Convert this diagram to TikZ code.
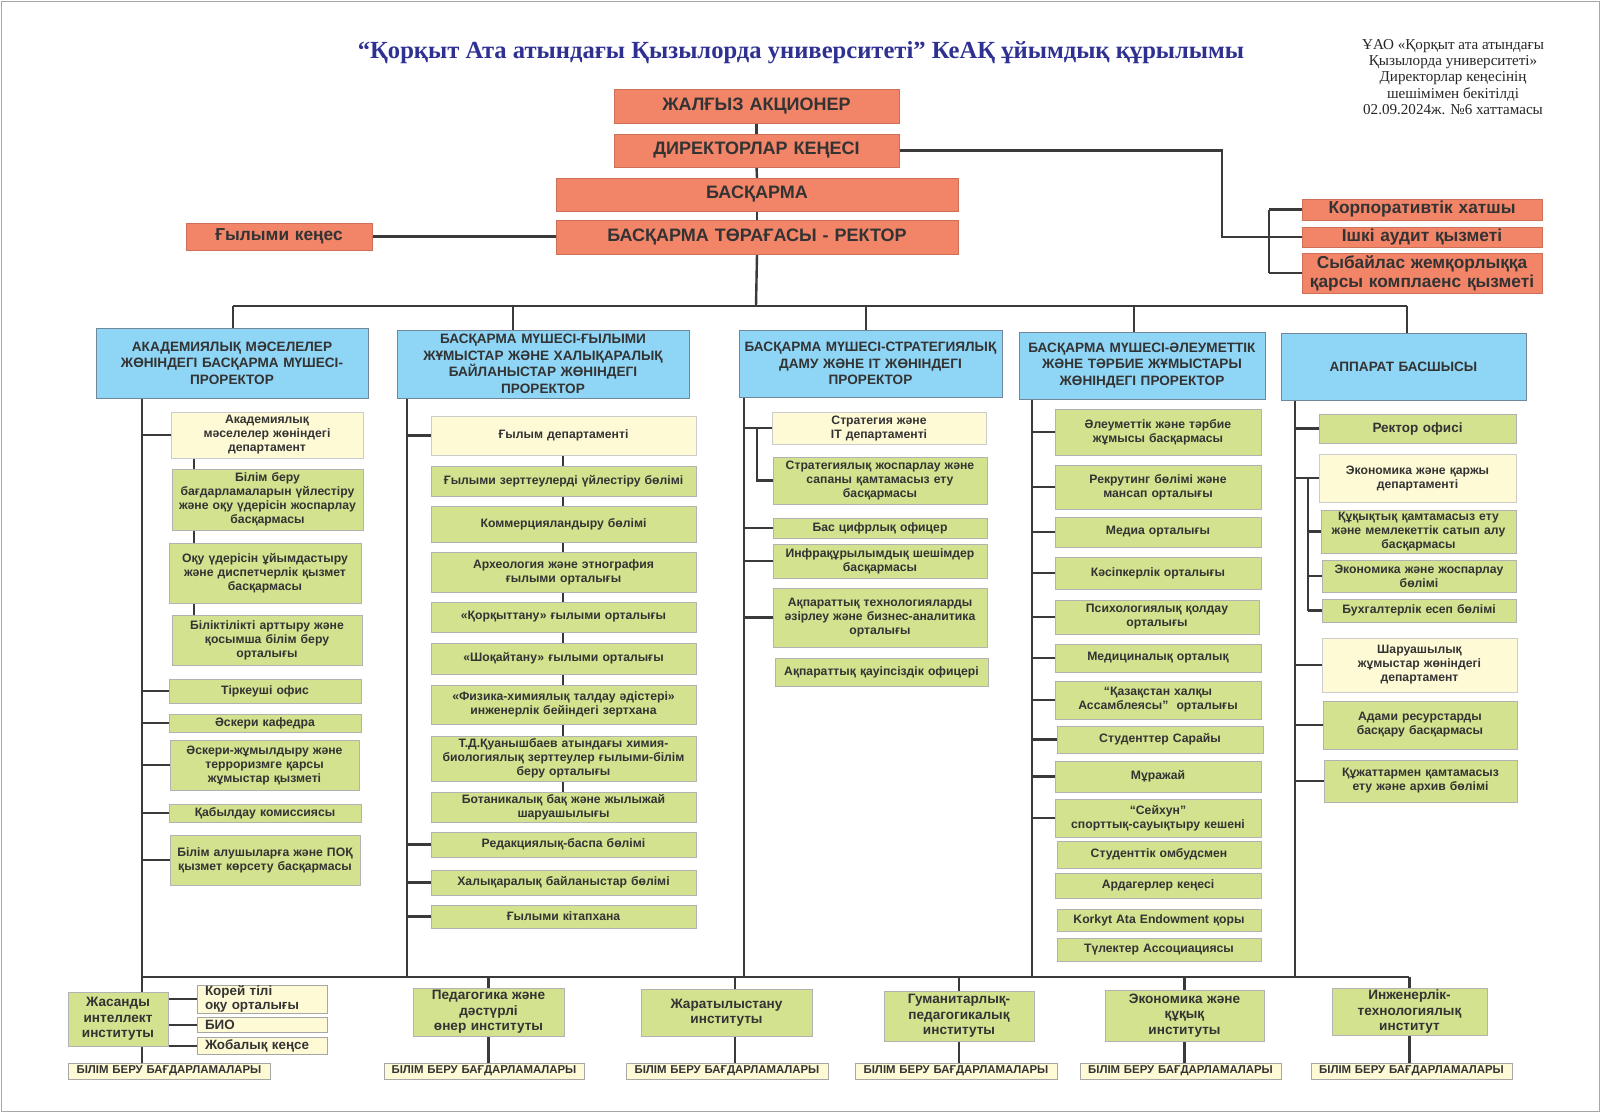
\documentclass[tikz,border=0pt]{standalone}
\usepackage{fontspec}
\setmainfont{Liberation Sans}
\newfontfamily\serifx{Liberation Serif}
\definecolor{orng}{HTML}{F28468}
\definecolor{blu}{HTML}{8FD6F6}
\definecolor{grn}{HTML}{D3E28F}
\definecolor{crm}{HTML}{FFFAD6}
\definecolor{txt}{HTML}{333333}
\definecolor{ttl}{HTML}{2E3192}
\definecolor{lnc}{HTML}{3A3A3A}
\definecolor{bbd}{HTML}{6F8799}
\pgfdeclarelayer{bg}
\pgfdeclarelayer{lines}
\pgfsetlayers{bg,lines,main}
\newcommand\mybox[7]{%
  \pgfmathsetmacro\bxw{#5-#3}%
  \pgfmathsetmacro\bxh{#6-#4}%
  \pgfmathsetmacro\bxt{#5-#3-4}%
  \pgfmathsetmacro\bxcx{(#3+#5)/2}%
  \pgfmathsetmacro\bxcy{(#4+#6)/2}%
  \node[#2, minimum width=\bxw pt, minimum height=\bxh pt, text width=\bxt pt] (#1) at (\bxcx,\bxcy) {#7};}
\tikzset{
  basebox/.style={inner xsep=2pt, inner ysep=0pt, align=center, text=txt, font=\bfseries\fontsize{12.2}{14}\selectfont},
  ob/.style={basebox, fill=orng, draw=orng!85!black, line width=0.4pt, font=\bfseries\fontsize{18}{20}\selectfont},
  obs/.style={ob, font=\bfseries\fontsize{17.3}{19}\selectfont},
  bb/.style={basebox, fill=blu, draw=bbd, line width=0.7pt, font=\bfseries\fontsize{13.6}{16.5}\selectfont},
  gb/.style={basebox, fill=grn, draw=gray!60, line width=0.6pt},
  cb/.style={basebox, fill=crm, draw=gray!40, line width=0.6pt},
  ib/.style={gb, font=\bfseries\fontsize{13.6}{15.3}\selectfont},
  kb/.style={cb, draw=gray!70, align=left, font=\bfseries\fontsize{13.4}{14}\selectfont},
  pb/.style={cb, draw=gray!70, font=\bfseries\fontsize{11.4}{12}\selectfont},
  conn/.style={draw=lnc, line width=2.4pt},
}
\begin{document}
\begin{tikzpicture}[x=1pt,y=-1pt]
\useasboundingbox (0,0) rectangle (1600,1112);
\begin{pgfonlayer}{bg}
\fill[white] (0,0) rectangle (1600,1112);
\draw[gray!70, line width=0.8pt] (1,1) rectangle (1599,1111);
\end{pgfonlayer}

% title and note
\node[font=\serifx\bfseries\fontsize{24.6}{28}\selectfont, text=ttl] (title) at (801,53) {“Қорқыт Ата атындағы Қызылорда университеті” КеАҚ ұйымдық құрылымы};
\node[font=\serifx\fontsize{15.1}{16.3}\selectfont, align=center, text=black!85] (note) at (1453,77) {ҰАО «Қорқыт ата атындағы\\Қызылорда университеті»\\Директорлар кеңесінің\\шешімімен бекітілді\\02.09.2024ж. №6 хаттамасы};

% coordinates
\coordinate (busL) at (233,306);
\coordinate (busR) at (1407,306);
\coordinate (bus) at (756,306);
\coordinate (v2) at (513,306);
\coordinate (v3) at (866,306);
\coordinate (v4) at (1134,306);
\coordinate (j1) at (1222,150);
\coordinate (j2) at (1269,200);
\coordinate (s1) at (142,398);
\coordinate (s2) at (407,398);
\coordinate (s3) at (744,397);
\coordinate (s4) at (1032,399);
\coordinate (s5) at (1295,400);
\coordinate (t1) at (194,0);
\coordinate (t2) at (563,0);
\coordinate (t3) at (757,0);
\coordinate (t5) at (1308,0);
\coordinate (bbL) at (142,977);
\coordinate (bbR) at (1409,977);
\coordinate (m3) at (735,0);

% top orange boxes
\mybox{ja}{ob}{614}{89}{899}{123}{ЖАЛҒЫЗ АКЦИОНЕР}
\mybox{dk}{ob}{614}{134}{899}{167}{ДИРЕКТОРЛАР КЕҢЕСІ}
\mybox{bs}{ob}{556}{178}{958}{211}{БАСҚАРМА}
\mybox{rk}{ob}{556}{220}{958}{254}{БАСҚАРМА ТӨРАҒАСЫ - РЕКТОР}
\mybox{gk}{obs}{186}{223}{372}{250}{Ғылыми кеңес}
\mybox{kh}{obs}{1302}{199}{1542}{220}{Корпоративтік хатшы}
\mybox{ia}{obs}{1302}{227}{1542}{247}{Ішкі аудит қызметі}
\mybox{sj}{obs}{1302}{253}{1542}{293}{Сыбайлас жемқорлыққа\\қарсы комплаенс қызметі}

% column 1
\mybox{p1}{bb}{96}{328}{368}{398}{АКАДЕМИЯЛЫҚ МӘСЕЛЕЛЕР\\ЖӨНІНДЕГІ БАСҚАРМА МҮШЕСІ-\\ПРОРЕКТОР}
\mybox{a1}{cb}{171}{412}{363}{458}{Академиялық\\мәселелер жөніндегі\\департамент}
\mybox{a2}{gb}{172}{469}{363}{530}{Білім беру\\бағдарламаларын үйлестіру\\және оқу үдерісін жоспарлау\\басқармасы}
\mybox{a3}{gb}{169}{543}{361}{603}{Оқу үдерісін ұйымдастыру\\және диспетчерлік қызмет\\басқармасы}
\mybox{a4}{gb}{172}{615}{362}{665}{Біліктілікті арттыру және\\қосымша білім беру\\орталығы}
\mybox{a5}{gb}{169}{679}{361}{703}{Тіркеуші офис}
\mybox{a6}{gb}{169}{714}{361}{732}{Әскери кафедра}
\mybox{a7}{gb}{170}{740}{359}{790}{Әскери-жұмылдыру және\\терроризмге қарсы\\жұмыстар қызметі}
\mybox{a8}{gb}{169}{804}{361}{822}{Қабылдау комиссиясы}
\mybox{a9}{gb}{170}{835}{360}{885}{Білім алушыларға және ПОҚ\\қызмет көрсету басқармасы}

% column 2
\mybox{p2}{bb}{397}{330}{689}{398}{БАСҚАРМА МҮШЕСІ-ҒЫЛЫМИ\\ЖҰМЫСТАР ЖӘНЕ ХАЛЫҚАРАЛЫҚ\\БАЙЛАНЫСТАР ЖӨНІНДЕГІ\\ПРОРЕКТОР}
\mybox{b1}{cb}{431}{416}{696}{455}{Ғылым департаменті}
\mybox{b2}{gb}{431}{466}{696}{496}{Ғылыми зерттеулерді үйлестіру бөлімі}
\mybox{b3}{gb}{431}{506}{696}{542}{Коммерцияландыру бөлімі}
\mybox{b4}{gb}{431}{552}{696}{592}{Археология және этнография\\ғылыми орталығы}
\mybox{b5}{gb}{431}{602}{696}{632}{«Қорқыттану» ғылыми орталығы}
\mybox{b6}{gb}{431}{643}{696}{674}{«Шоқайтану» ғылыми орталығы}
\mybox{b7}{gb}{431}{685}{696}{724}{«Физика-химиялық талдау әдістері»\\инженерлік бейіндегі зертхана}
\mybox{b8}{gb}{431}{736}{696}{781}{Т.Д.Қуанышбаев атындағы химия-\\биологиялық зерттеулер ғылыми-білім\\беру орталығы}
\mybox{b9}{gb}{431}{792}{696}{822}{Ботаникалық бақ және жылыжай\\шаруашылығы}
\mybox{b10}{gb}{431}{832}{696}{857}{Редакциялық-баспа бөлімі}
\mybox{b11}{gb}{431}{870}{696}{895}{Халықаралық байланыстар бөлімі}
\mybox{b12}{gb}{431}{905}{696}{928}{Ғылыми кітапхана}

% column 3
\mybox{p3}{bb, inner xsep=0pt}{739}{330}{1002}{397}{БАСҚАРМА МҮШЕСІ-СТРАТЕГИЯЛЫҚ\\ДАМУ ЖӘНЕ IT ЖӨНІНДЕГІ\\ПРОРЕКТОР}
\mybox{c1}{cb}{772}{412}{986}{444}{Стратегия және\\IT департаменті}
\mybox{c2}{gb}{773}{457}{987}{504}{Стратегиялық жоспарлау және\\сапаны қамтамасыз ету\\басқармасы}
\mybox{c3}{gb}{773}{518}{987}{538}{Бас цифрлық офицер}
\mybox{c4}{gb}{773}{544}{987}{578}{Инфрақұрылымдық шешімдер\\басқармасы}
\mybox{c5}{gb}{773}{588}{987}{647}{Ақпараттық технологияларды\\әзірлеу және бизнес-аналитика\\орталығы}
\mybox{c6}{gb}{775}{658}{988}{686}{Ақпараттық қауіпсіздік офицері}

% column 4
\mybox{p4}{bb}{1019}{332}{1265}{399}{БАСҚАРМА МҮШЕСІ-ӘЛЕУМЕТТІК\\ЖӘНЕ ТӘРБИЕ ЖҰМЫСТАРЫ\\ЖӨНІНДЕГІ ПРОРЕКТОР}
\mybox{d1}{gb}{1055}{409}{1261}{455}{Әлеуметтік және тәрбие\\жұмысы басқармасы}
\mybox{d2}{gb}{1055}{465}{1261}{509}{Рекрутинг бөлімі және\\мансап орталығы}
\mybox{d3}{gb}{1055}{517}{1261}{547}{Медиа орталығы}
\mybox{d4}{gb}{1055}{557}{1261}{589}{Кәсіпкерлік орталығы}
\mybox{d5}{gb}{1055}{600}{1259}{634}{Психологиялық қолдау\\орталығы}
\mybox{d6}{gb}{1055}{644}{1261}{672}{Медициналық орталық}
\mybox{d7}{gb}{1055}{681}{1261}{719}{“Қазақстан халқы\\Ассамблеясы”\ \ орталығы}
\mybox{d8}{gb}{1057}{726}{1263}{753}{Студенттер Сарайы}
\mybox{d9}{gb}{1055}{761}{1261}{792}{Мұражай}
\mybox{d10}{gb}{1055}{799}{1261}{837}{“Сейхун”\\спорттық-сауықтыру кешені}
\mybox{d11}{gb}{1057}{841}{1261}{868}{Студенттік омбудсмен}
\mybox{d12}{gb}{1055}{873}{1261}{898}{Ардагерлер кеңесі}
\mybox{d13}{gb}{1057}{909}{1261}{931}{Korkyt Ata Endowment қоры}
\mybox{d14}{gb}{1057}{938}{1261}{961}{Түлектер Ассоциациясы}

% column 5
\mybox{p5}{bb}{1281}{333}{1526}{400}{АППАРАТ БАСШЫСЫ}
\mybox{e1}{gb, font=\bfseries\fontsize{13.5}{15}\selectfont}{1319}{414}{1516}{443}{Ректор офисі}
\mybox{e2}{cb}{1319}{454}{1516}{502}{Экономика және қаржы\\департаменті}
\mybox{e3}{gb}{1321}{510}{1516}{553}{Құқықтық қамтамасыз ету\\және мемлекеттік сатып алу\\басқармасы}
\mybox{e4}{gb}{1322}{560}{1516}{592}{Экономика және жоспарлау\\бөлімі}
\mybox{e5}{gb}{1322}{599}{1516}{622}{Бухгалтерлік есеп бөлімі}
\mybox{e6}{cb}{1322}{638}{1517}{692}{Шаруашылық\\жұмыстар жөніндегі\\департамент}
\mybox{e7}{gb}{1323}{701}{1517}{749}{Адами ресурстарды\\басқару басқармасы}
\mybox{e8}{gb}{1324}{760}{1517}{802}{Құжаттармен қамтамасыз\\ету және архив бөлімі}

% institutes
\mybox{i1}{ib}{68}{992}{168}{1046}{Жасанды\\интеллект\\институты}
\mybox{k1}{kb}{197}{985}{327}{1013}{\hspace*{6pt}Корей тілі\\\hspace*{6pt}оқу орталығы}
\mybox{k2}{kb}{197}{1017}{327}{1032}{\hspace*{6pt}БИО}
\mybox{k3}{kb}{197}{1037}{327}{1054}{\hspace*{6pt}Жобалық кеңсе}
\mybox{i2}{ib}{413}{988}{564}{1036}{Педагогика және\\дәстүрлі\\өнер институты}
\mybox{i3}{ib}{641}{989}{812}{1036}{Жаратылыстану\\институты}
\mybox{i4}{ib}{884}{991}{1034}{1041}{Гуманитарлық-\\педагогикалық\\институты}
\mybox{i5}{ib}{1105}{990}{1264}{1041}{Экономика және\\құқық\\институты}
\mybox{i6}{ib}{1332}{988}{1487}{1035}{Инженерлік-\\технологиялық\\институт}
\mybox{q1}{pb}{68}{1063}{270}{1079}{БІЛІМ БЕРУ БАҒДАРЛАМАЛАРЫ}
\mybox{q2}{pb}{384}{1063}{584}{1079}{БІЛІМ БЕРУ БАҒДАРЛАМАЛАРЫ}
\mybox{q3}{pb}{626}{1063}{828}{1079}{БІЛІМ БЕРУ БАҒДАРЛАМАЛАРЫ}
\mybox{q4}{pb}{855}{1063}{1057}{1079}{БІЛІМ БЕРУ БАҒДАРЛАМАЛАРЫ}
\mybox{q5}{pb}{1080}{1063}{1281}{1079}{БІЛІМ БЕРУ БАҒДАРЛАМАЛАРЫ}
\mybox{q6}{pb}{1311}{1063}{1512}{1079}{БІЛІМ БЕРУ БАҒДАРЛАМАЛАРЫ}

% ---------- connectors ----------
\begin{pgfonlayer}{lines}
\draw[conn] (ja.south) -- (dk.north);
\draw[conn] (dk.south) -- (bs.north);
\draw[conn] (bs.south) -- (rk.north);
\draw[conn] (rk.south) -- (bus);
\draw[conn] (gk.east) -- (gk.east -| rk.west);
\draw[conn] (dk.east) -| (j1 |- ia.west) -- (ia.west);
\draw[conn] (j2 |- kh.west) -- (j2 |- sj.west);
\draw[conn] (j2 |- kh.west) -- (kh.west);
\draw[conn] (j2 |- sj.west) -- (sj.west);
\draw[conn] (busL) -- (busR);
\draw[conn] (busL) -- (busL |- p1.north);
\draw[conn] (v2) -- (v2 |- p2.north);
\draw[conn] (v3) -- (v3 |- p3.north);
\draw[conn] (v4) -- (v4 |- p4.north);
\draw[conn] (busR) -- (busR |- p5.north);
% spines
\draw[conn] (s1) -- (bbL);
\draw[conn] (s2) -- (s2 |- bbL);
\draw[conn] (s3) -- (s3 |- bbL);
\draw[conn] (s4) -- (s4 |- bbL);
\draw[conn] (s5) -- (s5 |- bbL);
% column 1 branches
\foreach \n in {a1,a5,a6,a7,a8,a9} \draw[conn] (s1 |- \n.west) -- (\n.west);
\draw[conn] (a1.south -| t1) -- (a2.north -| t1);
\draw[conn] (a2.south -| t1) -- (a3.north -| t1);
\draw[conn] (a3.south -| t1) -- (a4.north -| t1);
% column 2
\foreach \n in {b1,b10,b11,b12} \draw[conn] (s2 |- \n.west) -- (\n.west);
\draw[conn] (b1.south -| t2) -- (b9.north -| t2);
% column 3
\foreach \n in {c1,c3,c4,c5} \draw[conn] (s3 |- \n.west) -- (\n.west);
\draw[conn] (t3 |- c1.west) -- (t3 |- c2.west) -- (c2.west);
% column 4
\foreach \n in {d1,d2,d3,d4,d5,d6,d7,d8,d9,d10} \draw[conn] (s4 |- \n.west) -- (\n.west);
% column 5
\foreach \n in {e1,e2,e6,e7,e8} \draw[conn] (s5 |- \n.west) -- (\n.west);
\draw[conn] (t5 |- e2.west) -- (t5 |- e5.west);
\foreach \n in {e3,e4,e5} \draw[conn] (t5 |- \n.west) -- (\n.west);
% bottom bus
\draw[conn] (bbL) -- (bbR);
\draw[conn] (bbL) -- (bbL |- i1.north);
\draw[conn] (bbL |- i1.south) -- (bbL |- q1.north);
\foreach \n in {k1,k2,k3} \draw[conn, line width=2pt] (\n.west -| i1.east) -- (\n.west);
\draw[conn] (bbL -| i2.north) -- (i2.north);
\draw[conn] (bbL -| m3) -- (m3 |- i3.north);
\draw[conn] (bbL -| i4.north) -- (i4.north);
\draw[conn] (bbL -| i5.north) -- (i5.north);
\draw[conn] (bbL -| i6.north) -- (i6.north);
\draw[conn] (i2.south) -- (i2.south |- q2.north);
\draw[conn] (m3 |- i3.south) -- (m3 |- q3.north);
\draw[conn] (i4.south) -- (i4.south |- q4.north);
\draw[conn] (i5.south) -- (i5.south |- q5.north);
\draw[conn] (i6.south) -- (i6.south |- q6.north);
\end{pgfonlayer}
\end{tikzpicture}
\end{document}
